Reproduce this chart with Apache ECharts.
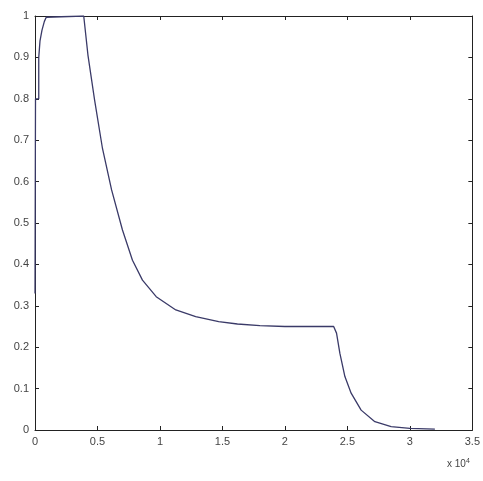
<!DOCTYPE html>
<html>
<head>
<meta charset="utf-8">
<script src="https://cdn.jsdelivr.net/npm/echarts@6/dist/echarts.min.js"></script>
<style>
  html, body { margin: 0; padding: 0; background: #fff; }
  #main { width: 483px; height: 481px; }
</style>
</head>
<body>
<div id="main"></div>
<script>
// x in units of 10^4
var xs = [0, 0.004, 0.004, 0.03, 0.03, 0.04, 0.056, 0.075, 0.09, 0.1, 0.39, 0.424, 0.477, 0.54, 0.613, 0.70, 0.78, 0.86, 0.97, 1.127, 1.286, 1.47, 1.62, 1.8, 2.0, 2.39, 2.413, 2.44, 2.48, 2.53, 2.61, 2.72, 2.85, 3.0, 3.2];
var ys = [0.33, 0.33, 0.8, 0.8, 0.9, 0.94, 0.966, 0.987, 0.997, 1.0, 1.0, 0.905, 0.797, 0.68, 0.58, 0.483, 0.41, 0.362, 0.322, 0.29, 0.274, 0.262, 0.256, 0.252, 0.25, 0.25, 0.234, 0.185, 0.129, 0.089, 0.048, 0.02, 0.008, 0.004, 0.002];
var xTicks = ['0', '0.5', '1', '1.5', '2', '2.5', '3', '3.5'];
var yTicks = ['0', '0.1', '0.2', '0.3', '0.4', '0.5', '0.6', '0.7', '0.8', '0.9', '1'];

var chart = echarts.init(document.getElementById('main'));

var pts = xs.map(function (x, i) { return [x, ys[i]]; });

var fontFam = 'Liberation Sans, Arial, sans-serif';
var lineStyle = { color: '#222', width: 1 };

function axisCommon(extra) {
  var a = {
    axisLine: { show: true, onZero: false, lineStyle: lineStyle },
    axisTick: { show: true, inside: true, length: 4, lineStyle: lineStyle },
    splitLine: { show: false }
  };
  for (var k in extra) a[k] = extra[k];
  return a;
}

chart.setOption({
  animation: false,
  backgroundColor: '#fff',
  grid: { left: 35, right: 7, top: 16, bottom: 51 },
  xAxis: [
    axisCommon({
      type: 'value', min: 0, max: 3.5, interval: 0.5, position: 'bottom',
      axisLabel: { margin: 6, formatter: function (v) { return xTicks[Math.round(v / 0.5)]; }, color: '#444', fontSize: 11, fontFamily: fontFam }
    }),
    axisCommon({
      type: 'value', min: 0, max: 3.5, interval: 0.5, position: 'top',
      axisLabel: { show: false }
    })
  ],
  yAxis: [
    axisCommon({
      type: 'value', min: 0, max: 1, interval: 0.1, position: 'left',
      axisLabel: { margin: 6, formatter: function (v) { return yTicks[Math.round(v * 10)]; }, color: '#444', fontSize: 11, fontFamily: fontFam }
    }),
    axisCommon({
      type: 'value', min: 0, max: 1, interval: 0.1, position: 'right',
      axisLabel: { show: false }
    })
  ],
  graphic: [{
    type: 'text',
    left: 447, top: 458,
    style: {
      text: 'x 10{s|4}',
      fill: '#444',
      fontSize: 10,
      fontFamily: fontFam,
      rich: { s: { fontSize: 7, verticalAlign: 'top', padding: [0, 0, 6, 0], fill: '#444' } }
    }
  }],
  series: [{
    type: 'line',
    data: pts,
    showSymbol: false,
    smooth: false,
    lineStyle: { color: '#3a3a68', width: 1.3 }
  }]
});
</script>
</body>
</html>
